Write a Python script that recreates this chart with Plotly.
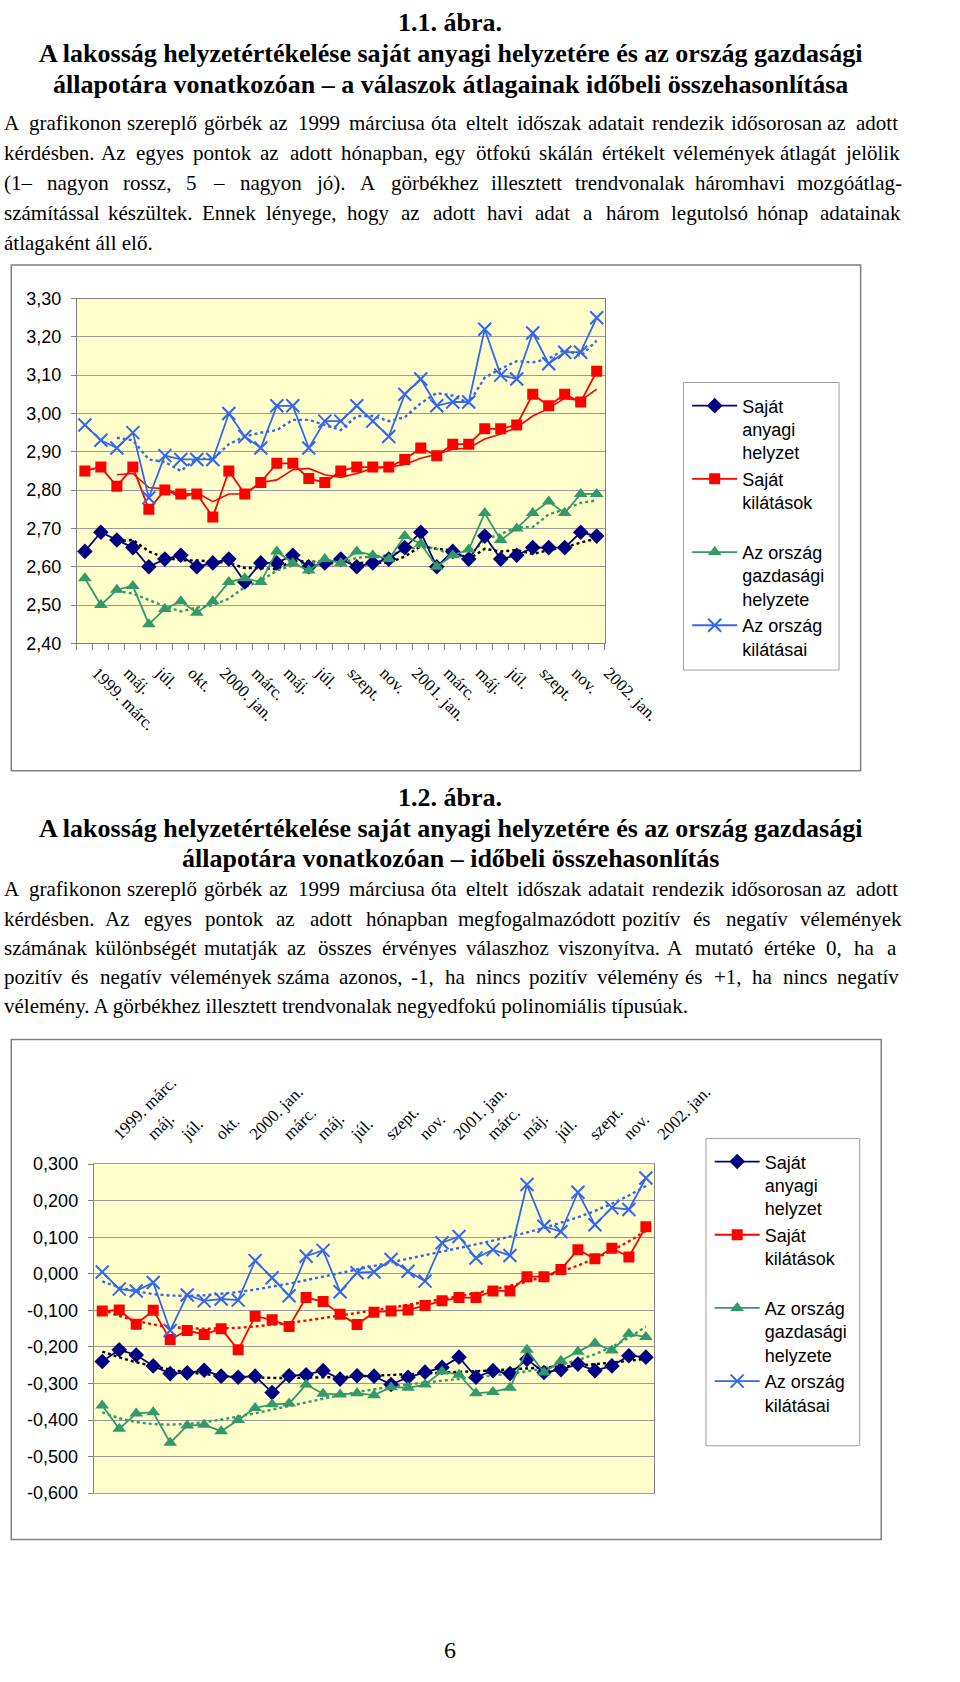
import numpy as np
import plotly.graph_objects as go

# ---------------- data ----------------
categories = ["1999. márc.", "1999. ápr.", "1999. máj.", "1999. jún.", "1999. júl.", "1999. szept.",
              "1999. okt.", "1999. dec.", "2000. jan.", "2000. febr.", "2000. márc.", "2000. ápr.",
              "2000. máj.", "2000. jún.", "2000. júl.", "2000. aug.", "2000. szept.", "2000. okt.",
              "2000. nov.", "2000. dec.", "2001. jan.", "2001. febr.", "2001. márc.", "2001. ápr.",
              "2001. máj.", "2001. jún.", "2001. júl.", "2001. aug.", "2001. szept.", "2001. okt.",
              "2001. nov.", "2001. dec.", "2002. jan."]
tick_labels = ["1999. márc.", "máj.", "júl.", "okt.", "2000. jan.", "márc.", "máj.", "júl.", "szept.",
               "nov.", "2001. jan.", "márc.", "máj.", "júl.", "szept.", "nov.", "2002. jan."]

series_names = ["Saját<br>anyagi<br>helyzet", "Saját<br>kilátások<br> ",
                "Az ország<br>gazdasági<br>helyzete", "Az ország<br>kilátásai"]

# 1.1. ábra – átlagok (ötfokú skála)
c1_y_ticks = [2.40, 2.50, 2.60, 2.70, 2.80, 2.90, 3.00, 3.10, 3.20, 3.30]
c1_sajat_anyagi = [2.64, 2.69, 2.67, 2.65, 2.60, 2.62, 2.63, 2.60, 2.61, 2.62, 2.56, 2.61, 2.61, 2.63,
                   2.60, 2.61, 2.62, 2.60, 2.61, 2.62, 2.65, 2.69, 2.60, 2.64, 2.62, 2.68, 2.62, 2.63,
                   2.65, 2.65, 2.65, 2.69, 2.68]
c1_sajat_kilatasok = [2.85, 2.86, 2.81, 2.86, 2.75, 2.80, 2.79, 2.79, 2.73, 2.85, 2.79, 2.82, 2.87, 2.87,
                      2.83, 2.82, 2.85, 2.86, 2.86, 2.86, 2.88, 2.91, 2.89, 2.92, 2.92, 2.96, 2.96, 2.97,
                      3.05, 3.02, 3.05, 3.03, 3.11]
c1_orszag_gazd = [2.57, 2.50, 2.54, 2.55, 2.45, 2.49, 2.51, 2.48, 2.51, 2.56, 2.57, 2.56, 2.64, 2.61,
                  2.59, 2.62, 2.61, 2.64, 2.63, 2.62, 2.68, 2.66, 2.60, 2.63, 2.645, 2.74, 2.67, 2.70,
                  2.74, 2.77, 2.74, 2.79, 2.79]
c1_orszag_kilatasai = [2.97, 2.93, 2.91, 2.95, 2.78, 2.89, 2.88, 2.88, 2.88, 3.00, 2.94, 2.91, 3.02, 3.02,
                       2.91, 2.98, 2.98, 3.02, 2.98, 2.94, 3.05, 3.09, 3.02, 3.03, 3.03, 3.22, 3.10, 3.09,
                       3.21, 3.13, 3.16, 3.16, 3.25]

# 1.2. ábra – egyenlegek
c2_y_ticks = [-0.6, -0.5, -0.4, -0.3, -0.2, -0.1, 0.0, 0.1, 0.2, 0.3]
c2_sajat_anyagi = [-0.240, -0.208, -0.222, -0.252, -0.273, -0.271, -0.264, -0.280, -0.283, -0.280, -0.325,
                   -0.279, -0.276, -0.265, -0.288, -0.279, -0.280, -0.303, -0.283, -0.269, -0.256, -0.228,
                   -0.283, -0.265, -0.273, -0.234, -0.270, -0.262, -0.247, -0.265, -0.252, -0.224, -0.228]
c2_sajat_kilatasok = [-0.102, -0.099, -0.138, -0.100, -0.180, -0.155, -0.166, -0.150, -0.208, -0.116, -0.126,
                      -0.144, -0.065, -0.076, -0.111, -0.139, -0.105, -0.102, -0.099, -0.087, -0.074, -0.065,
                      -0.065, -0.047, -0.047, -0.008, -0.008, 0.012, 0.066, 0.041, 0.070, 0.046, 0.129]
c2_orszag_gazd = [-0.360, -0.424, -0.382, -0.379, -0.462, -0.415, -0.413, -0.431, -0.400, -0.367, -0.357,
                  -0.355, -0.303, -0.328, -0.330, -0.327, -0.332, -0.310, -0.312, -0.303, -0.267, -0.276,
                  -0.327, -0.323, -0.312, -0.208, -0.270, -0.238, -0.213, -0.190, -0.210, -0.164, -0.173]
c2_orszag_kilatasai = [0.005, -0.042, -0.047, -0.024, -0.155, -0.058, -0.074, -0.069, -0.072, 0.036, -0.011,
                       -0.060, 0.048, 0.064, -0.049, 0.003, 0.005, 0.039, 0.007, -0.020, 0.085, 0.102,
                       0.043, 0.066, 0.050, 0.244, 0.130, 0.115, 0.223, 0.134, 0.181, 0.176, 0.262]

# ---------------- page text ----------------
fig1_no = "1.1. ábra."
fig1_title = ["A lakosság helyzetértékelése saját anyagi helyzetére és az ország gazdasági",
              "állapotára vonatkozóan – a válaszok átlagainak időbeli összehasonlítása"]
fig1_para = ["A grafikonon szereplő görbék az 1999 márciusa óta eltelt időszak adatait rendezik idősorosan az adott",
             "kérdésben. Az egyes pontok az adott hónapban, egy ötfokú skálán értékelt vélemények átlagát jelölik",
             "(1– nagyon rossz, 5 – nagyon jó). A görbékhez illesztett trendvonalak háromhavi mozgóátlag-",
             "számítással készültek. Ennek lényege, hogy az adott havi adat a három legutolsó hónap adatainak",
             "átlagaként áll elő."]
fig2_no = "1.2. ábra."
fig2_title = ["A lakosság helyzetértékelése saját anyagi helyzetére és az ország gazdasági",
              "állapotára vonatkozóan – időbeli összehasonlítás"]
fig2_para = ["A grafikonon szereplő görbék az 1999 márciusa óta eltelt időszak adatait rendezik idősorosan az adott",
             "kérdésben. Az egyes pontok az adott hónapban megfogalmazódott pozitív és negatív vélemények",
             "számának különbségét mutatják az összes érvényes válaszhoz viszonyítva. A mutató értéke 0, ha a",
             "pozitív és negatív vélemények száma azonos, -1, ha nincs pozitív vélemény és +1, ha nincs negatív",
             "vélemény. A görbékhez illesztett trendvonalak negyedfokú polinomiális típusúak."]
page_no = "6"

# ---------------- styling ----------------
W, H = 960, 1682
SERIF = "Liberation Serif, Times New Roman, serif"
SANS = "Liberation Sans, Arial, sans-serif"
NAVY, RED, GREEN, BLUE = "#000080", "#FF0000", "#339966", "#3366EE"
GRID = "#9A9A9A"
PLOTBG = "#FFFFCC"


def px(x):
    return x / W


def py(y):
    return 1 - y / H


fig = go.Figure()

styles = [
    dict(color=NAVY, symbol="diamond", size=12, trend=dict(color="#000000", dash="dot")),
    dict(color=RED, symbol="square", size=11, trend=dict(color=RED, dash="solid")),
    dict(color=GREEN, symbol="triangle-up", size=12, trend=dict(color=GREEN, dash="dot")),
    dict(color=BLUE, symbol="x-thin", size=13, trend=dict(color=BLUE, dash="dot")),
]


def moving_avg(vals, n=3):
    return [None] * (n - 1) + [float(np.mean(vals[i - n + 1:i + 1])) for i in range(n - 1, len(vals))]


def poly4(vals):
    xs = np.arange(1, len(vals) + 1)
    coef = np.polyfit(xs, vals, 4)
    return list(np.polyval(coef, xs))


c1_series = [c1_sajat_anyagi, c1_sajat_kilatasok, c1_orszag_gazd, c1_orszag_kilatasai]
c2_series = [c2_sajat_anyagi, c2_sajat_kilatasok, c2_orszag_gazd, c2_orszag_kilatasai]

for chart, series, trendf, xa, ya, leg in [
        (1, c1_series, moving_avg, "x", "y", "legend"),
        (2, c2_series, poly4, "x2", "y2", "legend2")]:
    for vals, st in zip(series, styles):
        dash = st["trend"]["dash"] if chart == 1 else "dot"
        tw_ = 1.6 if dash == "solid" else 2.4
        fig.add_trace(go.Scatter(x=categories, y=trendf(vals), mode="lines", xaxis=xa, yaxis=ya,
                                 line=dict(color=st["trend"]["color"], dash=dash, width=tw_),
                                 showlegend=False, hoverinfo="skip"))
    for vals, name, st in zip(series, series_names, styles):
        marker = dict(symbol=st["symbol"], size=st["size"], color=st["color"],
                      line=dict(color=st["color"], width=2 if st["symbol"] == "x-thin" else 0))
        fig.add_trace(go.Scatter(x=categories, y=vals, mode="lines+markers", name=name,
                                 xaxis=xa, yaxis=ya, legend=leg,
                                 line=dict(color=st["color"], width=1.8), marker=marker))

full_ticktext = []
lab_iter = iter(tick_labels)
for i, c in enumerate(categories):
    full_ticktext.append(next(lab_iter) if i % 2 == 0 else "")


def fmt(v, d):
    s = f"{v:.{d}f}".replace(".", ",")
    return "0," + "0" * d if s.strip("-0,") == "" else s


common_y = dict(showgrid=True, gridcolor=GRID, gridwidth=1, ticks="outside", ticklen=5,
                tickcolor="#808080", showline=True, linecolor="#808080", linewidth=1, mirror=True,
                tickfont=dict(family=SANS, size=18, color="#000"), zeroline=False,
                tickmode="array", ticklabelstandoff=6)

fig.update_layout(
    width=W, height=H, margin=dict(l=0, r=0, t=0, b=0),
    paper_bgcolor="white", plot_bgcolor=PLOTBG,
    xaxis=dict(domain=[px(82), px(645)], anchor="y", type="category", range=[-0.5, 32.5],
               tickmode="array", tickvals=categories, ticktext=full_ticktext, tickson="boundaries",
               ticks="outside", ticklen=6, tickcolor="#808080", tickangle=45, ticklabelstandoff=12,
               ticklabelshift=12,
               tickfont=dict(family=SERIF, size=17, color="#000"),
               showline=True, linecolor="#808080", mirror=True, showgrid=False),
    yaxis=dict(domain=[py(641), py(292)], anchor="x", range=[2.4, 3.3],
               tickvals=c1_y_ticks, ticktext=[fmt(v, 2) for v in c1_y_ticks], **common_y),
    xaxis2=dict(domain=[px(100), px(698)], anchor="y2", type="category", range=[-0.5, 32.5],
                side="top", tickmode="array", tickvals=categories, ticktext=full_ticktext,
                ticks="", tickangle=-45, ticklabelstandoff=13, ticklabelshift=12,
                tickfont=dict(family=SERIF, size=17, color="#000"),
                showline=True, linecolor="#A0A0A0", mirror=True, showgrid=False),
    yaxis2=dict(domain=[py(1501), py(1168)], anchor="x2", range=[-0.6, 0.3],
                tickvals=c2_y_ticks, ticktext=[fmt(v, 3) for v in c2_y_ticks], **common_y),
    legend=dict(x=px(733), y=py(382), xanchor="left", yanchor="top", bgcolor="rgba(0,0,0,0)",
                borderwidth=0, font=dict(family=SANS, size=18, color="#000"), itemwidth=45,
                valign="top", tracegroupgap=0),
    legend2=dict(x=px(757), y=py(1147), xanchor="left", yanchor="top", bgcolor="rgba(0,0,0,0)",
                 borderwidth=0, font=dict(family=SANS, size=18, color="#000"), itemwidth=45,
                 valign="top", tracegroupgap=0),
    showlegend=True,
)

shapes = []
for (x0, y0, x1, y1, col, w) in [(12, 258, 918, 770, "#808080", 1.5), (12, 1042, 940, 1548, "#808080", 1.5),
                                 (729, 377, 895, 668, "#A0A0A0", 1), (753, 1142, 917, 1453, "#A0A0A0", 1)]:
    shapes.append(dict(type="rect", xref="paper", yref="paper", x0=px(x0), x1=px(x1), y0=py(y1), y1=py(y0),
                       line=dict(color=col, width=w), fillcolor="rgba(0,0,0,0)", layer="below"))
fig.update_layout(shapes=shapes)

# ---------------- text helpers ----------------
REG = {' ': 250, '!': 333, '(': 333, ')': 333, '+': 564, ',': 250, '-': 333, '.': 250, ':': 278, ';': 278,
       '–': 500, '0': 500, '1': 500, '2': 500, '3': 500, '4': 500, '5': 500, '6': 500, '7': 500, '8': 500,
       '9': 500, 'A': 722, 'B': 667, 'C': 667, 'D': 722, 'E': 611, 'F': 556, 'G': 722, 'H': 722, 'I': 333,
       'J': 389, 'K': 722, 'L': 611, 'M': 889, 'N': 722, 'O': 722, 'P': 556, 'Q': 722, 'R': 667, 'S': 556,
       'T': 611, 'U': 722, 'V': 722, 'W': 944, 'X': 722, 'Y': 722, 'Z': 611, 'a': 444, 'b': 500, 'c': 444,
       'd': 500, 'e': 444, 'f': 333, 'g': 500, 'h': 500, 'i': 278, 'j': 278, 'k': 500, 'l': 278, 'm': 778,
       'n': 500, 'o': 500, 'p': 500, 'q': 500, 'r': 333, 's': 389, 't': 278, 'u': 500, 'v': 500, 'w': 722,
       'x': 500, 'y': 500, 'z': 444, 'á': 444, 'é': 444, 'í': 278, 'ó': 500, 'ö': 500, 'ő': 500, 'ú': 500,
       'ü': 500, 'ű': 500}


def tw(s, size):
    return sum(REG.get(ch, 500) for ch in s) * size / 1000.0


annotations = []


def ann(text, x, y, size, bold=False, xanchor="left"):
    t = f"<b>{text}</b>" if bold else text
    annotations.append(dict(text=t, x=px(x), y=py(y), xref="paper", yref="paper", showarrow=False,
                            xanchor=xanchor, yanchor="middle", borderpad=0, borderwidth=0,
                            font=dict(family=SERIF, size=size, color="#000")))


def para(lines, y0, dy, size, xl=4, xr=955):
    for k, line in enumerate(lines):
        y = y0 + k * dy
        if k == len(lines) - 1:
            ann(line, xl, y, size)
            continue
        words = line.split(" ")
        widths = [tw(w_, size) for w_ in words]
        gap = (xr - xl - sum(widths)) / (len(words) - 1)
        x = xl
        for w_, wd in zip(words, widths):
            ann(w_, x, y, size)
            x += wd + gap


TITLE_SIZE = 26
BODY_SIZE = 21

ann(fig1_no, 480, 13, TITLE_SIZE, bold=True, xanchor="center")
for k, t in enumerate(fig1_title):
    ann(t, 480, 44 + 31 * k, TITLE_SIZE, bold=True, xanchor="center")
para(fig1_para, 114, 30.5, BODY_SIZE)

ann(fig2_no, 480, 797, TITLE_SIZE, bold=True, xanchor="center")
for k, t in enumerate(fig2_title):
    ann(t, 480, 828 + 31 * k, TITLE_SIZE, bold=True, xanchor="center")
para(fig2_para, 890, 29.5, BODY_SIZE)

ann(page_no, 480, 1660, 24, xanchor="center")

fig.update_layout(annotations=annotations)
fig.write_html("out.html", post_script="document.body.style.margin='0px';",
               config={"displayModeBar": False})
